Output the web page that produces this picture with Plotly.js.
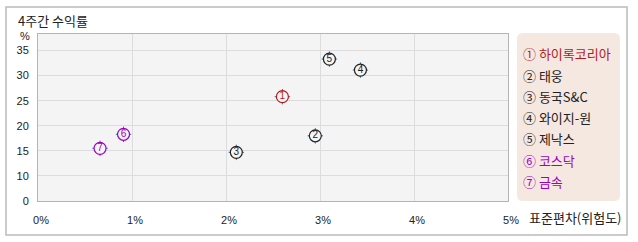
<!DOCTYPE html>
<html><head><meta charset="utf-8">
<script src="https://cdn.plot.ly/plotly-3.0.1.min.js"></script>
<style>html,body{margin:0;padding:0;background:#fff;}#c{width:638px;height:242px;}</style>
</head><body><div id="c"></div>
<script>
const labels = ['①','②','③','④','⑤','⑥','⑦'];
const nums = ['1','2','3','4','5','6','7'];
const names = ['하이록코리아','태웅','동국S&C','와이지-원','제낙스','코스닥','금속'];
const stdev = [2.60, 2.95, 2.11, 3.43, 3.10, 0.91, 0.66];
const ret4w = [25.8, 18.0, 14.7, 31.1, 33.3, 18.3, 15.5];
const colors = ['#b01c1c','#222222','#222222','#222222','#222222','#a000c0','#a000c0'];
const xTickVals = [0,1,2,3,4,5];
const xTickText = ['0%','1%','2%','3%','4%','5%'];
const yTickVals = [5,10,15,20,25,30,35];
const yTickText = ['0','10','15','20','25','30','35'];

const L = 38, T = 34, W = 470, H = 167;
const fx = px => (px - L) / W;
const fy = py => (T + H - py) / H;
const fnt = 'Liberation Sans, DejaVu Sans, sans-serif';
const kfnt = 'Noto Sans CJK KR, sans-serif';

const traces = [
  {x: stdev, y: ret4w, mode: 'markers', hoverinfo: 'skip', showlegend: false,
   marker: {symbol: 'cross-thin-open', size: 11, line: {width: 1, color: colors}}},
  {x: stdev, y: ret4w, mode: 'markers+text', hoverinfo: 'skip', showlegend: false,
   text: nums, textposition: 'middle center',
   textfont: {family: fnt, size: 10, color: colors},
   marker: {symbol: 'circle', size: 12, color: '#f4f4f4', line: {width: 1.2, color: colors}}}
];

function roundRect(x0p, y0p, x1p, y1p, r) {
  const x0 = fx(x0p), x1 = fx(x1p), yT = fy(y0p), yB = fy(y1p);
  const rx = r / W, ry = r / H;
  return `M ${x0+rx} ${yT} L ${x1-rx} ${yT} Q ${x1} ${yT} ${x1} ${yT-ry} L ${x1} ${yB+ry} Q ${x1} ${yB} ${x1-rx} ${yB} L ${x0+rx} ${yB} Q ${x0} ${yB} ${x0} ${yB+ry} L ${x0} ${yT-ry} Q ${x0} ${yT} ${x0+rx} ${yT} Z`;
}

const shapes = [
  {type: 'rect', xref: 'paper', yref: 'paper', x0: fx(6), x1: fx(627), y0: fy(235), y1: fy(7),
   line: {color: '#bbbbbb', width: 1.5}, fillcolor: 'rgba(0,0,0,0)', layer: 'below'},
  {type: 'path', xref: 'paper', yref: 'paper', path: roundRect(517, 33, 620, 201, 6),
   line: {width: 0}, fillcolor: '#f5e8e1', layer: 'below'}
];

const annotations = [
  {xref: 'paper', yref: 'paper', x: fx(16), y: fy(20), xanchor: 'left', yanchor: 'middle',
   text: '4주간 수익률', showarrow: false, font: {family: kfnt, size: 13, color: '#222'}},
  {xref: 'paper', yref: 'paper', x: fx(25), y: fy(36), xanchor: 'center', yanchor: 'middle',
   text: '%', showarrow: false, font: {family: fnt, size: 11, color: '#222'}},
  {xref: 'paper', yref: 'paper', x: fx(527), y: fy(217), xanchor: 'left', yanchor: 'middle',
   text: '표준편차(위험도)', showarrow: false, font: {family: kfnt, size: 13, color: '#222'}}
];
labels.forEach((lb, i) => {
  annotations.push({xref: 'paper', yref: 'paper', x: fx(521), y: fy(54 + i * 21.2),
    xanchor: 'left', yanchor: 'middle', text: lb + ' ' + names[i], showarrow: false,
    font: {family: kfnt, size: 13, color: colors[i]}});
});

const layout = {
  width: 638, height: 242,
  margin: {l: L, r: 638 - L - W, t: T, b: 242 - T - H, pad: 0},
  paper_bgcolor: '#ffffff', plot_bgcolor: '#f4f4f4',
  showlegend: false,
  xaxis: {range: [0, 5], tickvals: xTickVals, ticktext: xTickText, showgrid: true,
    gridcolor: '#dcdcdc', gridwidth: 1, zeroline: false, showline: true, linecolor: '#b4b4b4',
    linewidth: 1, mirror: true, ticks: '', ticklabelstandoff: 9, ticklabelshift: 3,
    tickfont: {family: fnt, size: 11, color: '#222'}, fixedrange: true},
  yaxis: {range: [5, 38.3], tickvals: yTickVals, ticktext: yTickText, showgrid: true,
    gridcolor: '#dcdcdc', gridwidth: 1, zeroline: false, showline: true, linecolor: '#b4b4b4',
    linewidth: 1, mirror: true, ticks: '', ticklabelstandoff: 6,
    tickfont: {family: fnt, size: 11, color: '#222'}, fixedrange: true},
  shapes: shapes,
  annotations: annotations
};

Plotly.newPlot('c', traces, layout, {displayModeBar: false, staticPlot: true});
</script></body></html>
